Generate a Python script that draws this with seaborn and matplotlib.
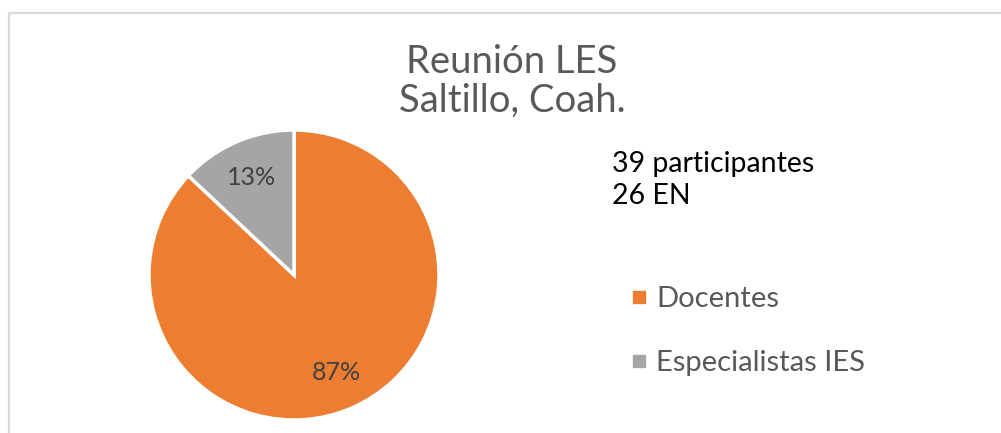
import matplotlib
matplotlib.use("Agg")
import matplotlib.pyplot as plt
import seaborn as sns
from matplotlib.lines import Line2D

# datos
categorias = ["Docentes", "Especialistas IES"]
porcentajes = [87, 13]
colores = ["#ED7D31", "#A5A5A5"]
titulo = "Reunión LES\nSaltillo, Coah."
nota = "39 participantes\n26 EN"

sns.set_theme(style="white")
plt.rcParams["font.family"] = ["Lato", "DejaVu Sans"]

fig = plt.figure(figsize=(10.01, 4.33), dpi=100)
fig.patch.set_facecolor("white")

# marco del gráfico (solo se ve arriba y a la izquierda)
fig.add_artist(Line2D([9 / 1001, 9 / 1001], [0, 1 - 13 / 433], transform=fig.transFigure,
                      color="#D9D9D9", lw=1.6))
fig.add_artist(Line2D([9 / 1001, 1], [1 - 13 / 433, 1 - 13 / 433], transform=fig.transFigure,
                      color="#D9D9D9", lw=1.6))

ax = fig.add_axes([149 / 1001, 13 / 433, 290 / 1001, 290 / 433])
wedges, textos, autotextos = ax.pie(
    porcentajes, colors=colores, startangle=90, counterclock=False,
    autopct="%1.0f%%", pctdistance=0.73,
    wedgeprops=dict(edgecolor="white", linewidth=2.5),
    textprops=dict(color="#404040", fontsize=18),
)
ax.set_xlim(-1, 1)
ax.set_ylim(-1, 1)
ax.set_aspect("equal")

fig.text(512 / 1001, 1 - 81 / 433, titulo, ha="center", va="center",
         fontsize=27.5, color="#595959", linespacing=1.1)
fig.text(612 / 1001, 1 - 180 / 433, nota, ha="left", va="center",
         fontsize=20.5, color="black", linespacing=1.25)

handles = [Line2D([], [], marker="s", linestyle="none", markersize=8,
                  markerfacecolor=c, markeredgecolor=c) for c in colores]
fig.legend(handles, categorias, loc="center left",
           bbox_to_anchor=(630 / 1001, 1 - 331 / 433), frameon=False,
           fontsize=21, labelcolor="#595959", handlelength=0.6,
           handletextpad=0.3, labelspacing=1.29, borderpad=0, borderaxespad=0)

fig.savefig("out.png", dpi=100)
